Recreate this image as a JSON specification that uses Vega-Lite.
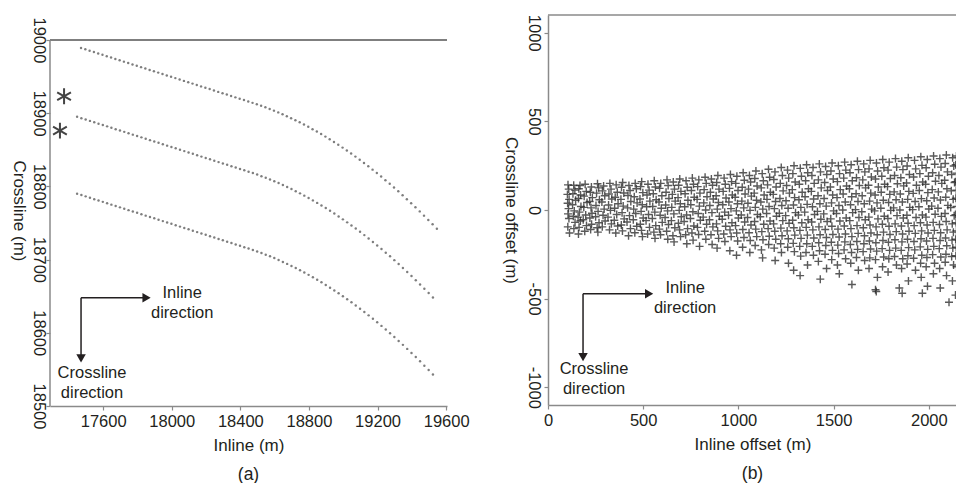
{
  "$schema": "https://vega.github.io/schema/vega-lite/v6.json",
  "padding": {"left": 10, "top": 14, "right": 0, "bottom": 0},
  "spacing": 32,
  "datasets": {
    "curves": [
      {"x":17471,"y":18989.0},{"x":17496,"y":18987.1},{"x":17521,"y":18985.3},{"x":17546,"y":18983.4},{"x":17571,"y":18981.5},{"x":17596,"y":18979.6},{"x":17621,"y":18977.8},{"x":17646,"y":18975.9},{"x":17671,"y":18974.0},{"x":17696,"y":18972.1},{"x":17721,"y":18970.3},{"x":17746,"y":18968.4},{"x":17771,"y":18966.5},{"x":17796,"y":18964.6},{"x":17821,"y":18962.8},{"x":17846,"y":18960.9},{"x":17871,"y":18959.0},{"x":17896,"y":18957.1},{"x":17921,"y":18955.3},{"x":17946,"y":18953.4},{"x":17971,"y":18951.5},{"x":17996,"y":18949.6},{"x":18021,"y":18947.8},{"x":18046,"y":18945.9},{"x":18071,"y":18944.0},{"x":18096,"y":18942.1},{"x":18121,"y":18940.3},{"x":18146,"y":18938.4},{"x":18171,"y":18936.5},{"x":18196,"y":18934.6},{"x":18221,"y":18932.8},{"x":18246,"y":18930.9},{"x":18271,"y":18929.0},{"x":18296,"y":18927.1},{"x":18321,"y":18925.3},{"x":18346,"y":18923.4},{"x":18371,"y":18921.5},{"x":18396,"y":18919.6},{"x":18421,"y":18917.8},{"x":18446,"y":18915.9},{"x":18471,"y":18914.0},
      {"x":18496,"y":18912.1},{"x":18521,"y":18910.1},{"x":18546,"y":18907.9},{"x":18571,"y":18905.7},{"x":18596,"y":18903.4},{"x":18621,"y":18901.0},{"x":18646,"y":18898.5},{"x":18671,"y":18895.8},{"x":18696,"y":18893.1},{"x":18721,"y":18890.3},{"x":18746,"y":18887.4},{"x":18771,"y":18884.4},{"x":18796,"y":18881.3},{"x":18821,"y":18878.1},{"x":18846,"y":18874.8},{"x":18871,"y":18871.4},{"x":18896,"y":18867.9},{"x":18921,"y":18864.3},{"x":18946,"y":18860.6},{"x":18971,"y":18856.8},{"x":18996,"y":18852.9},{"x":19021,"y":18848.9},{"x":19046,"y":18844.8},{"x":19071,"y":18840.6},{"x":19096,"y":18836.3},{"x":19121,"y":18831.9},{"x":19146,"y":18827.4},{"x":19171,"y":18822.8},{"x":19196,"y":18818.1},{"x":19221,"y":18813.3},{"x":19246,"y":18808.4},{"x":19271,"y":18803.4},{"x":19296,"y":18798.4},{"x":19321,"y":18793.2},{"x":19346,"y":18787.9},{"x":19371,"y":18782.5},{"x":19396,"y":18777.0},{"x":19421,"y":18771.5},{"x":19446,"y":18765.8},{"x":19471,"y":18760.0},{"x":19496,"y":18754.1},{"x":19521,"y":18748.2},{"x":19546,"y":18742.1},
      {"x":17448,"y":18895.0},{"x":17473,"y":18893.1},{"x":17498,"y":18891.3},{"x":17523,"y":18889.4},{"x":17548,"y":18887.5},{"x":17573,"y":18885.6},{"x":17598,"y":18883.8},{"x":17623,"y":18881.9},{"x":17648,"y":18880.0},{"x":17673,"y":18878.1},{"x":17698,"y":18876.3},{"x":17723,"y":18874.4},{"x":17748,"y":18872.5},{"x":17773,"y":18870.6},{"x":17798,"y":18868.8},{"x":17823,"y":18866.9},{"x":17848,"y":18865.0},{"x":17873,"y":18863.1},{"x":17898,"y":18861.3},{"x":17923,"y":18859.4},{"x":17948,"y":18857.5},{"x":17973,"y":18855.6},{"x":17998,"y":18853.8},{"x":18023,"y":18851.9},{"x":18048,"y":18850.0},{"x":18073,"y":18848.1},{"x":18098,"y":18846.3},{"x":18123,"y":18844.4},{"x":18148,"y":18842.5},{"x":18173,"y":18840.6},{"x":18198,"y":18838.8},{"x":18223,"y":18836.9},{"x":18248,"y":18835.0},{"x":18273,"y":18833.1},{"x":18298,"y":18831.3},{"x":18323,"y":18829.4},{"x":18348,"y":18827.5},{"x":18373,"y":18825.6},{"x":18398,"y":18823.8},{"x":18423,"y":18821.9},{"x":18448,"y":18820.0},
      {"x":18473,"y":18818.1},{"x":18498,"y":18816.1},{"x":18523,"y":18813.9},{"x":18548,"y":18811.7},{"x":18573,"y":18809.4},{"x":18598,"y":18807.0},{"x":18623,"y":18804.5},{"x":18648,"y":18801.8},{"x":18673,"y":18799.1},{"x":18698,"y":18796.3},{"x":18723,"y":18793.4},{"x":18748,"y":18790.4},{"x":18773,"y":18787.3},{"x":18798,"y":18784.1},{"x":18823,"y":18780.8},{"x":18848,"y":18777.4},{"x":18873,"y":18773.9},{"x":18898,"y":18770.3},{"x":18923,"y":18766.6},{"x":18948,"y":18762.8},{"x":18973,"y":18758.9},{"x":18998,"y":18754.9},{"x":19023,"y":18750.8},{"x":19048,"y":18746.6},{"x":19073,"y":18742.3},{"x":19098,"y":18737.9},{"x":19123,"y":18733.4},{"x":19148,"y":18728.8},{"x":19173,"y":18724.1},{"x":19198,"y":18719.3},{"x":19223,"y":18714.4},{"x":19248,"y":18709.4},{"x":19273,"y":18704.4},{"x":19298,"y":18699.2},{"x":19323,"y":18693.9},{"x":19348,"y":18688.5},{"x":19373,"y":18683.0},{"x":19398,"y":18677.5},{"x":19423,"y":18671.8},{"x":19448,"y":18666.0},{"x":19473,"y":18660.1},{"x":19498,"y":18654.2},{"x":19523,"y":18648.1},
      {"x":17448,"y":18790.0},{"x":17473,"y":18788.1},{"x":17498,"y":18786.3},{"x":17523,"y":18784.4},{"x":17548,"y":18782.5},{"x":17573,"y":18780.6},{"x":17598,"y":18778.8},{"x":17623,"y":18776.9},{"x":17648,"y":18775.0},{"x":17673,"y":18773.1},{"x":17698,"y":18771.3},{"x":17723,"y":18769.4},{"x":17748,"y":18767.5},{"x":17773,"y":18765.6},{"x":17798,"y":18763.8},{"x":17823,"y":18761.9},{"x":17848,"y":18760.0},{"x":17873,"y":18758.1},{"x":17898,"y":18756.3},{"x":17923,"y":18754.4},{"x":17948,"y":18752.5},{"x":17973,"y":18750.6},{"x":17998,"y":18748.8},{"x":18023,"y":18746.9},{"x":18048,"y":18745.0},{"x":18073,"y":18743.1},{"x":18098,"y":18741.3},{"x":18123,"y":18739.4},{"x":18148,"y":18737.5},{"x":18173,"y":18735.6},{"x":18198,"y":18733.8},{"x":18223,"y":18731.9},{"x":18248,"y":18730.0},{"x":18273,"y":18728.1},{"x":18298,"y":18726.3},{"x":18323,"y":18724.4},{"x":18348,"y":18722.5},{"x":18373,"y":18720.6},{"x":18398,"y":18718.8},{"x":18423,"y":18716.9},{"x":18448,"y":18715.0},
      {"x":18473,"y":18713.1},{"x":18498,"y":18711.1},{"x":18523,"y":18708.9},{"x":18548,"y":18706.7},{"x":18573,"y":18704.4},{"x":18598,"y":18702.0},{"x":18623,"y":18699.5},{"x":18648,"y":18696.8},{"x":18673,"y":18694.1},{"x":18698,"y":18691.3},{"x":18723,"y":18688.4},{"x":18748,"y":18685.4},{"x":18773,"y":18682.3},{"x":18798,"y":18679.1},{"x":18823,"y":18675.8},{"x":18848,"y":18672.4},{"x":18873,"y":18668.9},{"x":18898,"y":18665.3},{"x":18923,"y":18661.6},{"x":18948,"y":18657.8},{"x":18973,"y":18653.9},{"x":18998,"y":18649.9},{"x":19023,"y":18645.8},{"x":19048,"y":18641.6},{"x":19073,"y":18637.3},{"x":19098,"y":18632.9},{"x":19123,"y":18628.4},{"x":19148,"y":18623.8},{"x":19173,"y":18619.1},{"x":19198,"y":18614.3},{"x":19223,"y":18609.4},{"x":19248,"y":18604.4},{"x":19273,"y":18599.4},{"x":19298,"y":18594.2},{"x":19323,"y":18588.9},{"x":19348,"y":18583.5},{"x":19373,"y":18578.0},{"x":19398,"y":18572.5},{"x":19423,"y":18566.8},{"x":19448,"y":18561.0},{"x":19473,"y":18555.1},{"x":19498,"y":18549.2},{"x":19523,"y":18543.1}
    ],
    "stars": [{"x":17372,"y":18923},{"x":17348,"y":18876}],
    "offsets": [
      {"x":105,"y":142},{"x":109,"y":118},{"x":102,"y":88},{"x":111,"y":60},{"x":103,"y":38},{"x":108,"y":8},{"x":105,"y":-22},{"x":110,"y":-48},{"x":104,"y":-95},{"x":113,"y":-130},
      {"x":135,"y":140},{"x":141,"y":112},{"x":131,"y":92},{"x":145,"y":55},{"x":129,"y":30},{"x":138,"y":-5},{"x":133,"y":-35},{"x":142,"y":-70},{"x":136,"y":-105},
      {"x":168,"y":138},{"x":162,"y":120},{"x":171,"y":85},{"x":160,"y":65},{"x":173,"y":20},{"x":165,"y":-12},{"x":158,"y":-40},{"x":170,"y":-62},{"x":163,"y":-98},{"x":160,"y":-135},
      {"x":195,"y":145},{"x":201,"y":105},{"x":190,"y":78},{"x":205,"y":42},{"x":188,"y":15},{"x":198,"y":-28},{"x":185,"y":-55},{"x":202,"y":-88},{"x":193,"y":-120},
      {"x":228,"y":130},{"x":222,"y":100},{"x":233,"y":70},{"x":219,"y":48},{"x":226,"y":12},{"x":231,"y":-18},{"x":220,"y":-45},{"x":229,"y":-80},{"x":224,"y":-110},
      {"x":260,"y":148},{"x":266,"y":125},{"x":255,"y":95},{"x":270,"y":58},{"x":252,"y":25},{"x":263,"y":-8},{"x":250,"y":-38},{"x":268,"y":-72},{"x":258,"y":-100},{"x":262,"y":-125},
      {"x":292,"y":135},{"x":286,"y":108},{"x":298,"y":80},{"x":283,"y":45},{"x":295,"y":5},{"x":289,"y":-30},{"x":300,"y":-62},{"x":285,"y":-95},
      {"x":325,"y":150},{"x":331,"y":118},{"x":320,"y":90},{"x":335,"y":62},{"x":318,"y":28},{"x":328,"y":-2},{"x":315,"y":-40},{"x":333,"y":-78},{"x":323,"y":-112},
      {"x":358,"y":142},{"x":364,"y":100},{"x":353,"y":72},{"x":368,"y":35},{"x":350,"y":10},{"x":361,"y":-25},{"x":348,"y":-58},{"x":366,"y":-90},{"x":356,"y":-130},
      {"x":392,"y":155},{"x":386,"y":128},{"x":398,"y":96},{"x":383,"y":60},{"x":395,"y":22},{"x":389,"y":-15},{"x":400,"y":-50},{"x":385,"y":-85},{"x":391,"y":-118},
      {"x":425,"y":138},{"x":431,"y":110},{"x":420,"y":82},{"x":435,"y":48},{"x":418,"y":12},{"x":428,"y":-32},{"x":415,"y":-68},{"x":433,"y":-105},{"x":423,"y":-145},
      {"x":458,"y":150},{"x":464,"y":120},{"x":453,"y":75},{"x":468,"y":40},{"x":450,"y":5},{"x":461,"y":-20},{"x":448,"y":-55},{"x":466,"y":-92},{"x":456,"y":-128},
      {"x":492,"y":160},{"x":486,"y":132},{"x":498,"y":98},{"x":483,"y":62},{"x":495,"y":30},{"x":489,"y":-8},{"x":500,"y":-45},{"x":485,"y":-80},{"x":491,"y":-115},{"x":496,"y":-150},
      {"x":525,"y":145},{"x":531,"y":112},{"x":520,"y":85},{"x":535,"y":50},{"x":518,"y":18},{"x":528,"y":-25},{"x":515,"y":-60},{"x":533,"y":-98},{"x":523,"y":-135},
      {"x":558,"y":165},{"x":564,"y":130},{"x":553,"y":92},{"x":568,"y":58},{"x":550,"y":20},{"x":561,"y":-12},{"x":548,"y":-48},{"x":566,"y":-88},{"x":556,"y":-125},{"x":562,"y":-160},
      {"x":592,"y":150},{"x":586,"y":122},{"x":598,"y":80},{"x":583,"y":45},{"x":595,"y":10},{"x":589,"y":-30},{"x":600,"y":-70},{"x":585,"y":-108},{"x":591,"y":-140},
      {"x":625,"y":170},{"x":631,"y":138},{"x":620,"y":100},{"x":635,"y":65},{"x":618,"y":28},{"x":628,"y":-5},{"x":615,"y":-42},{"x":633,"y":-82},{"x":623,"y":-120},{"x":629,"y":-165},
      {"x":658,"y":158},{"x":664,"y":118},{"x":653,"y":88},{"x":668,"y":50},{"x":650,"y":15},{"x":661,"y":-22},{"x":648,"y":-60},{"x":666,"y":-100},{"x":656,"y":-145},{"x":662,"y":-180},
      {"x":692,"y":175},{"x":686,"y":140},{"x":698,"y":105},{"x":683,"y":70},{"x":695,"y":35},{"x":689,"y":-2},{"x":700,"y":-38},{"x":685,"y":-75},{"x":691,"y":-112},{"x":696,"y":-150},
      {"x":725,"y":165},{"x":731,"y":128},{"x":720,"y":92},{"x":735,"y":55},{"x":718,"y":18},{"x":728,"y":-28},{"x":715,"y":-65},{"x":733,"y":-105},{"x":723,"y":-140},{"x":729,"y":-190},
      {"x":758,"y":180},{"x":764,"y":145},{"x":753,"y":110},{"x":768,"y":72},{"x":750,"y":30},{"x":761,"y":-10},{"x":748,"y":-48},{"x":766,"y":-90},{"x":756,"y":-130},{"x":762,"y":-170},
      {"x":792,"y":170},{"x":786,"y":132},{"x":798,"y":95},{"x":783,"y":60},{"x":795,"y":22},{"x":789,"y":-20},{"x":800,"y":-58},{"x":785,"y":-98},{"x":791,"y":-138},{"x":796,"y":-205},
      {"x":825,"y":185},{"x":831,"y":150},{"x":820,"y":115},{"x":835,"y":75},{"x":818,"y":40},{"x":828,"y":0},{"x":815,"y":-40},{"x":833,"y":-80},{"x":823,"y":-120},{"x":829,"y":-165},
      {"x":858,"y":175},{"x":864,"y":140},{"x":853,"y":100},{"x":868,"y":62},{"x":850,"y":25},{"x":861,"y":-15},{"x":848,"y":-55},{"x":866,"y":-95},{"x":856,"y":-140},{"x":862,"y":-195},
      {"x":892,"y":195},{"x":886,"y":155},{"x":898,"y":118},{"x":883,"y":80},{"x":895,"y":42},{"x":889,"y":5},{"x":900,"y":-35},{"x":885,"y":-78},{"x":891,"y":-118},{"x":896,"y":-160},{"x":888,"y":-215},
      {"x":925,"y":180},{"x":931,"y":145},{"x":920,"y":105},{"x":935,"y":68},{"x":918,"y":30},{"x":928,"y":-12},{"x":915,"y":-52},{"x":933,"y":-92},{"x":923,"y":-135},{"x":929,"y":-178},
      {"x":958,"y":200},{"x":964,"y":160},{"x":953,"y":122},{"x":968,"y":85},{"x":950,"y":45},{"x":961,"y":8},{"x":948,"y":-30},{"x":966,"y":-72},{"x":956,"y":-112},{"x":962,"y":-150},{"x":955,"y":-230},
      {"x":992,"y":190},{"x":986,"y":150},{"x":998,"y":110},{"x":983,"y":72},{"x":995,"y":35},{"x":989,"y":-5},{"x":1000,"y":-45},{"x":985,"y":-88},{"x":991,"y":-130},{"x":996,"y":-175},{"x":990,"y":-255},
      {"x":1025,"y":210},{"x":1031,"y":168},{"x":1020,"y":128},{"x":1035,"y":90},{"x":1018,"y":50},{"x":1028,"y":12},{"x":1015,"y":-28},{"x":1033,"y":-68},{"x":1023,"y":-110},{"x":1029,"y":-155},{"x":1022,"y":-210},
      {"x":1058,"y":195},{"x":1064,"y":158},{"x":1053,"y":118},{"x":1068,"y":78},{"x":1050,"y":38},{"x":1061,"y":-2},{"x":1048,"y":-42},{"x":1066,"y":-85},{"x":1056,"y":-128},{"x":1062,"y":-172},{"x":1060,"y":-240},
      {"x":1092,"y":220},{"x":1086,"y":178},{"x":1098,"y":135},{"x":1083,"y":95},{"x":1095,"y":55},{"x":1089,"y":15},{"x":1100,"y":-25},{"x":1085,"y":-65},{"x":1091,"y":-108},{"x":1096,"y":-150},{"x":1088,"y":-200},
      {"x":1125,"y":205},{"x":1131,"y":165},{"x":1120,"y":125},{"x":1135,"y":85},{"x":1118,"y":45},{"x":1128,"y":5},{"x":1115,"y":-38},{"x":1133,"y":-80},{"x":1123,"y":-122},{"x":1129,"y":-168},{"x":1121,"y":-225},{"x":1127,"y":-270},
      {"x":1158,"y":230},{"x":1164,"y":185},{"x":1153,"y":142},{"x":1168,"y":100},{"x":1150,"y":60},{"x":1161,"y":20},{"x":1148,"y":-20},{"x":1166,"y":-62},{"x":1156,"y":-105},{"x":1162,"y":-148},{"x":1159,"y":-195},
      {"x":1192,"y":215},{"x":1186,"y":172},{"x":1198,"y":130},{"x":1183,"y":88},{"x":1195,"y":48},{"x":1189,"y":8},{"x":1200,"y":-35},{"x":1185,"y":-78},{"x":1191,"y":-120},{"x":1196,"y":-165},{"x":1188,"y":-215},{"x":1193,"y":-285},
      {"x":1225,"y":240},{"x":1231,"y":195},{"x":1220,"y":150},{"x":1235,"y":108},{"x":1218,"y":65},{"x":1228,"y":25},{"x":1215,"y":-18},{"x":1233,"y":-60},{"x":1223,"y":-102},{"x":1229,"y":-145},{"x":1222,"y":-190},{"x":1226,"y":-240},
      {"x":1258,"y":225},{"x":1264,"y":180},{"x":1253,"y":138},{"x":1268,"y":95},{"x":1250,"y":52},{"x":1261,"y":10},{"x":1248,"y":-32},{"x":1266,"y":-75},{"x":1256,"y":-118},{"x":1262,"y":-162},{"x":1259,"y":-210},{"x":1263,"y":-300},
      {"x":1292,"y":250},{"x":1286,"y":205},{"x":1298,"y":158},{"x":1283,"y":115},{"x":1295,"y":70},{"x":1289,"y":28},{"x":1300,"y":-15},{"x":1285,"y":-58},{"x":1291,"y":-100},{"x":1296,"y":-142},{"x":1288,"y":-188},{"x":1294,"y":-235},{"x":1290,"y":-340},
      {"x":1325,"y":235},{"x":1331,"y":190},{"x":1320,"y":145},{"x":1335,"y":100},{"x":1318,"y":58},{"x":1328,"y":15},{"x":1315,"y":-28},{"x":1333,"y":-72},{"x":1323,"y":-115},{"x":1329,"y":-160},{"x":1322,"y":-205},{"x":1327,"y":-260},{"x":1324,"y":-370},
      {"x":1358,"y":255},{"x":1364,"y":210},{"x":1353,"y":165},{"x":1368,"y":120},{"x":1350,"y":75},{"x":1361,"y":32},{"x":1348,"y":-12},{"x":1366,"y":-55},{"x":1356,"y":-98},{"x":1362,"y":-142},{"x":1359,"y":-190},{"x":1355,"y":-240},{"x":1363,"y":-310},
      {"x":1392,"y":240},{"x":1386,"y":195},{"x":1398,"y":150},{"x":1383,"y":105},{"x":1395,"y":62},{"x":1389,"y":18},{"x":1400,"y":-25},{"x":1385,"y":-68},{"x":1391,"y":-112},{"x":1396,"y":-158},{"x":1388,"y":-205},{"x":1394,"y":-255},{"x":1430,"y":-390},
      {"x":1425,"y":260},{"x":1431,"y":215},{"x":1420,"y":170},{"x":1435,"y":125},{"x":1418,"y":80},{"x":1428,"y":35},{"x":1415,"y":-8},{"x":1433,"y":-52},{"x":1423,"y":-95},{"x":1429,"y":-140},{"x":1422,"y":-185},{"x":1426,"y":-230},{"x":1420,"y":-290},
      {"x":1458,"y":245},{"x":1464,"y":200},{"x":1453,"y":155},{"x":1468,"y":110},{"x":1450,"y":65},{"x":1461,"y":22},{"x":1448,"y":-22},{"x":1466,"y":-65},{"x":1456,"y":-110},{"x":1462,"y":-155},{"x":1459,"y":-200},{"x":1455,"y":-250},{"x":1463,"y":-330},
      {"x":1492,"y":265},{"x":1486,"y":220},{"x":1498,"y":175},{"x":1483,"y":130},{"x":1495,"y":85},{"x":1489,"y":40},{"x":1500,"y":-5},{"x":1485,"y":-50},{"x":1491,"y":-92},{"x":1496,"y":-138},{"x":1488,"y":-182},{"x":1494,"y":-228},{"x":1490,"y":-280},
      {"x":1525,"y":250},{"x":1531,"y":205},{"x":1520,"y":160},{"x":1535,"y":115},{"x":1518,"y":70},{"x":1528,"y":25},{"x":1515,"y":-20},{"x":1533,"y":-62},{"x":1523,"y":-108},{"x":1529,"y":-152},{"x":1522,"y":-198},{"x":1526,"y":-245},{"x":1520,"y":-310},{"x":1530,"y":-360},
      {"x":1558,"y":270},{"x":1564,"y":225},{"x":1553,"y":180},{"x":1568,"y":135},{"x":1550,"y":90},{"x":1561,"y":45},{"x":1548,"y":0},{"x":1566,"y":-45},{"x":1556,"y":-90},{"x":1562,"y":-135},{"x":1559,"y":-180},{"x":1555,"y":-225},{"x":1563,"y":-275},
      {"x":1592,"y":255},{"x":1586,"y":210},{"x":1598,"y":165},{"x":1583,"y":120},{"x":1595,"y":75},{"x":1589,"y":30},{"x":1600,"y":-15},{"x":1585,"y":-60},{"x":1591,"y":-105},{"x":1596,"y":-150},{"x":1588,"y":-195},{"x":1594,"y":-240},{"x":1590,"y":-300},{"x":1596,"y":-420},
      {"x":1625,"y":275},{"x":1631,"y":228},{"x":1620,"y":182},{"x":1635,"y":138},{"x":1618,"y":92},{"x":1628,"y":48},{"x":1615,"y":2},{"x":1633,"y":-42},{"x":1623,"y":-88},{"x":1629,"y":-132},{"x":1622,"y":-178},{"x":1626,"y":-222},{"x":1620,"y":-268},{"x":1630,"y":-340},
      {"x":1658,"y":260},{"x":1664,"y":215},{"x":1653,"y":170},{"x":1668,"y":125},{"x":1650,"y":80},{"x":1661,"y":35},{"x":1648,"y":-10},{"x":1666,"y":-55},{"x":1656,"y":-100},{"x":1662,"y":-145},{"x":1659,"y":-190},{"x":1655,"y":-235},{"x":1663,"y":-285},
      {"x":1692,"y":280},{"x":1686,"y":232},{"x":1698,"y":186},{"x":1683,"y":140},{"x":1695,"y":95},{"x":1689,"y":50},{"x":1700,"y":5},{"x":1685,"y":-40},{"x":1691,"y":-85},{"x":1696,"y":-130},{"x":1688,"y":-175},{"x":1694,"y":-220},{"x":1690,"y":-270},{"x":1686,"y":-330},{"x":1720,"y":-450},
      {"x":1725,"y":265},{"x":1731,"y":220},{"x":1720,"y":175},{"x":1735,"y":130},{"x":1718,"y":85},{"x":1728,"y":40},{"x":1715,"y":-5},{"x":1733,"y":-50},{"x":1723,"y":-95},{"x":1729,"y":-140},{"x":1722,"y":-185},{"x":1726,"y":-232},{"x":1720,"y":-280},{"x":1730,"y":-380},{"x":1724,"y":-460},
      {"x":1758,"y":285},{"x":1764,"y":238},{"x":1753,"y":190},{"x":1768,"y":145},{"x":1750,"y":100},{"x":1761,"y":55},{"x":1748,"y":10},{"x":1766,"y":-35},{"x":1756,"y":-80},{"x":1762,"y":-125},{"x":1759,"y":-172},{"x":1755,"y":-218},{"x":1763,"y":-265},{"x":1757,"y":-320},
      {"x":1792,"y":270},{"x":1786,"y":225},{"x":1798,"y":178},{"x":1783,"y":132},{"x":1795,"y":88},{"x":1789,"y":42},{"x":1800,"y":-2},{"x":1785,"y":-48},{"x":1791,"y":-92},{"x":1796,"y":-138},{"x":1788,"y":-182},{"x":1794,"y":-228},{"x":1790,"y":-275},{"x":1786,"y":-350},
      {"x":1825,"y":290},{"x":1831,"y":242},{"x":1820,"y":195},{"x":1835,"y":148},{"x":1818,"y":102},{"x":1828,"y":58},{"x":1815,"y":12},{"x":1833,"y":-32},{"x":1823,"y":-78},{"x":1829,"y":-122},{"x":1822,"y":-168},{"x":1826,"y":-215},{"x":1820,"y":-262},{"x":1830,"y":-310},{"x":1845,"y":-440},
      {"x":1858,"y":275},{"x":1864,"y":228},{"x":1853,"y":182},{"x":1868,"y":136},{"x":1850,"y":90},{"x":1861,"y":45},{"x":1848,"y":0},{"x":1866,"y":-45},{"x":1856,"y":-90},{"x":1862,"y":-135},{"x":1859,"y":-180},{"x":1855,"y":-228},{"x":1863,"y":-275},{"x":1857,"y":-330},{"x":1860,"y":-470},
      {"x":1892,"y":295},{"x":1886,"y":248},{"x":1898,"y":200},{"x":1883,"y":152},{"x":1895,"y":105},{"x":1889,"y":60},{"x":1900,"y":15},{"x":1885,"y":-30},{"x":1891,"y":-75},{"x":1896,"y":-120},{"x":1888,"y":-165},{"x":1894,"y":-212},{"x":1890,"y":-258},{"x":1886,"y":-305},{"x":1893,"y":-400},
      {"x":1925,"y":280},{"x":1931,"y":232},{"x":1920,"y":186},{"x":1935,"y":140},{"x":1918,"y":94},{"x":1928,"y":48},{"x":1915,"y":2},{"x":1933,"y":-42},{"x":1923,"y":-88},{"x":1929,"y":-132},{"x":1922,"y":-178},{"x":1926,"y":-225},{"x":1920,"y":-272},{"x":1930,"y":-340},
      {"x":1958,"y":300},{"x":1964,"y":252},{"x":1953,"y":205},{"x":1968,"y":158},{"x":1950,"y":110},{"x":1961,"y":64},{"x":1948,"y":18},{"x":1966,"y":-28},{"x":1956,"y":-72},{"x":1962,"y":-118},{"x":1959,"y":-162},{"x":1955,"y":-208},{"x":1963,"y":-255},{"x":1957,"y":-300},{"x":1960,"y":-380},{"x":1966,"y":-470},
      {"x":1992,"y":285},{"x":1986,"y":238},{"x":1998,"y":190},{"x":1983,"y":145},{"x":1995,"y":98},{"x":1989,"y":52},{"x":2000,"y":6},{"x":1985,"y":-40},{"x":1991,"y":-85},{"x":1996,"y":-130},{"x":1988,"y":-175},{"x":1994,"y":-222},{"x":1990,"y":-268},{"x":1986,"y":-320},{"x":1993,"y":-430},
      {"x":2025,"y":305},{"x":2031,"y":258},{"x":2020,"y":210},{"x":2035,"y":162},{"x":2018,"y":115},{"x":2028,"y":68},{"x":2015,"y":22},{"x":2033,"y":-24},{"x":2023,"y":-70},{"x":2029,"y":-115},{"x":2022,"y":-160},{"x":2026,"y":-205},{"x":2020,"y":-252},{"x":2030,"y":-300},{"x":2024,"y":-360},
      {"x":2058,"y":290},{"x":2064,"y":242},{"x":2053,"y":195},{"x":2068,"y":150},{"x":2050,"y":102},{"x":2061,"y":56},{"x":2048,"y":10},{"x":2066,"y":-36},{"x":2056,"y":-82},{"x":2062,"y":-128},{"x":2059,"y":-172},{"x":2055,"y":-218},{"x":2063,"y":-265},{"x":2057,"y":-330},{"x":2060,"y":-440},
      {"x":2092,"y":310},{"x":2086,"y":262},{"x":2098,"y":215},{"x":2083,"y":168},{"x":2095,"y":120},{"x":2089,"y":72},{"x":2100,"y":26},{"x":2085,"y":-20},{"x":2091,"y":-65},{"x":2096,"y":-112},{"x":2088,"y":-158},{"x":2094,"y":-202},{"x":2090,"y":-250},{"x":2086,"y":-295},{"x":2093,"y":-370},{"x":2106,"y":-520},
      {"x":2125,"y":295},{"x":2131,"y":248},{"x":2120,"y":200},{"x":2135,"y":155},{"x":2118,"y":108},{"x":2128,"y":60},{"x":2115,"y":14},{"x":2133,"y":-32},{"x":2123,"y":-78},{"x":2129,"y":-125},{"x":2122,"y":-170},{"x":2126,"y":-215},{"x":2120,"y":-262},{"x":2130,"y":-310},{"x":2124,"y":-400},
      {"x":2145,"y":305},{"x":2141,"y":255},{"x":2146,"y":208},{"x":2140,"y":160},{"x":2144,"y":112},{"x":2142,"y":66},{"x":2146,"y":20},{"x":2140,"y":-26},{"x":2143,"y":-72},{"x":2145,"y":-118},{"x":2141,"y":-165},{"x":2144,"y":-210},{"x":2142,"y":-258},{"x":2146,"y":-320},{"x":2140,"y":-480}
    ]
  },
  "hconcat": [
    {
      "width": 397,
      "height": 391,
      "title": {"text": "(a)"},
      "layer": [
        {
          "data": {"name": "curves"},
          "mark": {"type": "point", "shape": "circle", "filled": true, "size": 6, "color": "#707070", "opacity": 0.9},
          "encoding": {
            "x": {"field": "x", "type": "quantitative", "scale": {"domain": [17290, 19605], "nice": false, "zero": false},
                  "axis": {"title": "Inline (m)", "values": [17600, 18000, 18400, 18800, 19200, 19600], "format": "d"}},
            "y": {"field": "y", "type": "quantitative", "scale": {"domain": [18500, 19034], "nice": false, "zero": false},
                  "axis": {"title": "Crossline (m)", "values": [18500, 18600, 18700, 18800, 18900, 19000], "format": "d", "domain": false, "labelPadding": 0, "titlePadding": 3}}
          }
        },
        {
          "data": {"name": "stars"},
          "mark": {"type": "point", "shape": "M0,-1L0,1M-0.87,-0.5L0.87,0.5M-0.87,0.5L0.87,-0.5", "filled": false, "size": 250, "strokeWidth": 2, "color": "#444444", "opacity": 1},
          "encoding": {
            "x": {"field": "x", "type": "quantitative"},
            "y": {"field": "y", "type": "quantitative"}
          }
        },
        {
          "data": {"values": [{}]},
          "mark": {"type": "rule", "color": "#555555", "strokeWidth": 1.5},
          "encoding": {"x": {"datum": 17290}, "x2": {"datum": 19605}, "y": {"datum": 19000}}
        },
        {
          "data": {"values": [{}]},
          "mark": {"type": "rule", "color": "#8a8a8a", "strokeWidth": 1.5},
          "encoding": {"x": {"datum": 17290}, "y": {"datum": 18500}, "y2": {"datum": 19000}}
        },
        {
          "data": {"values": [{}]},
          "mark": {"type": "rule", "color": "#231f20", "strokeWidth": 1.5},
          "encoding": {"x": {"datum": 17471}, "x2": {"datum": 17851}, "y": {"datum": 18648}}
        },
        {
          "data": {"values": [{}]},
          "mark": {"type": "rule", "color": "#231f20", "strokeWidth": 1.5},
          "encoding": {"x": {"datum": 17471}, "y": {"datum": 18648}, "y2": {"datum": 18565}}
        },
        {
          "data": {"values": [{}]},
          "mark": {"type": "point", "shape": "triangle-right", "filled": true, "size": 90, "color": "#231f20", "opacity": 1},
          "encoding": {"x": {"datum": 17853}, "y": {"datum": 18648}}
        },
        {
          "data": {"values": [{}]},
          "mark": {"type": "point", "shape": "triangle-down", "filled": true, "size": 90, "color": "#231f20", "opacity": 1},
          "encoding": {"x": {"datum": 17471}, "y": {"datum": 18565}}
        },
        {
          "data": {"values": [{}]},
          "mark": {"type": "text", "text": ["Inline", "direction"], "font": "Liberation Sans", "fontSize": 16.5, "lineHeight": 20, "align": "center", "baseline": "middle", "color": "#231f20"},
          "encoding": {"x": {"datum": 18061}, "y": {"datum": 18654}}
        },
        {
          "data": {"values": [{}]},
          "mark": {"type": "text", "text": ["Crossline", "direction"], "font": "Liberation Sans", "fontSize": 16.5, "lineHeight": 20, "align": "center", "baseline": "middle", "color": "#231f20"},
          "encoding": {"x": {"datum": 17535}, "y": {"datum": 18545}}
        }
      ]
    },
    {
      "width": 409,
      "height": 390,
      "title": {"text": "(b)"},
      "layer": [
        {
          "data": {"name": "offsets"},
          "mark": {"type": "point", "shape": "M-1,0L1,0M0,-1L0,1", "filled": false, "size": 64, "strokeWidth": 1.4, "color": "#222222", "opacity": 0.75, "clip": true},
          "encoding": {
            "x": {"field": "x", "type": "quantitative", "scale": {"domain": [0, 2148], "nice": false, "zero": false},
                  "axis": {"title": "Inline offset (m)", "values": [0, 500, 1000, 1500, 2000], "format": "d"}},
            "y": {"field": "y", "type": "quantitative", "scale": {"domain": [-1100, 1100], "nice": false, "zero": false},
                  "axis": {"title": "Crossline offset (m)", "values": [-1000, -500, 0, 500, 1000], "labelExpr": "datum.value + ''"}}
          }
        },
        {
          "data": {"values": [{}]},
          "mark": {"type": "rule", "color": "#8a8a8a", "strokeWidth": 1.5},
          "encoding": {"x": {"datum": 0}, "x2": {"datum": 2148}, "y": {"datum": 1100}}
        },
        {
          "data": {"values": [{}]},
          "mark": {"type": "rule", "color": "#231f20", "strokeWidth": 1.5},
          "encoding": {"x": {"datum": 184}, "x2": {"datum": 531}, "y": {"datum": -473}}
        },
        {
          "data": {"values": [{}]},
          "mark": {"type": "rule", "color": "#231f20", "strokeWidth": 1.5},
          "encoding": {"x": {"datum": 184}, "y": {"datum": -473}, "y2": {"datum": -830}}
        },
        {
          "data": {"values": [{}]},
          "mark": {"type": "point", "shape": "triangle-right", "filled": true, "size": 90, "color": "#231f20", "opacity": 1},
          "encoding": {"x": {"datum": 531}, "y": {"datum": -473}}
        },
        {
          "data": {"values": [{}]},
          "mark": {"type": "point", "shape": "triangle-down", "filled": true, "size": 90, "color": "#231f20", "opacity": 1},
          "encoding": {"x": {"datum": 184}, "y": {"datum": -830}}
        },
        {
          "data": {"values": [{}]},
          "mark": {"type": "text", "text": ["Inline", "direction"], "font": "Liberation Sans", "fontSize": 16.5, "lineHeight": 20, "align": "center", "baseline": "middle", "color": "#231f20"},
          "encoding": {"x": {"datum": 720}, "y": {"datum": -440}}
        },
        {
          "data": {"values": [{}]},
          "mark": {"type": "text", "text": ["Crossline", "direction"], "font": "Liberation Sans", "fontSize": 16.5, "lineHeight": 20, "align": "center", "baseline": "middle", "color": "#231f20"},
          "encoding": {"x": {"datum": 242}, "y": {"datum": -897}}
        }
      ]
    }
  ],
  "config": {
    "font": "Liberation Sans",
    "view": {"stroke": null},
    "axis": {
      "grid": false,
      "domainColor": "#8a8a8a", "domainWidth": 1.5,
      "tickColor": "#8a8a8a", "tickWidth": 1.2, "tickSize": 4,
      "labelFont": "Liberation Sans", "labelFontSize": 16.5, "labelColor": "#231f20", "labelPadding": 3,
      "labelFlush": false, "labelOverlap": false,
      "titleFont": "Liberation Sans", "titleFontSize": 17, "titleFontWeight": "normal", "titleColor": "#231f20"
    },
    "axisLeft": {"labelAngle": 90, "labelAlign": "center", "labelBaseline": "top", "titleAngle": 90, "titleBaseline": "top", "titlePadding": 6},
    "axisBottom": {"titlePadding": 8},
    "title": {"font": "Liberation Sans", "fontSize": 17.5, "fontWeight": "normal", "color": "#231f20", "orient": "bottom", "anchor": "middle", "offset": 12}
  }
}
